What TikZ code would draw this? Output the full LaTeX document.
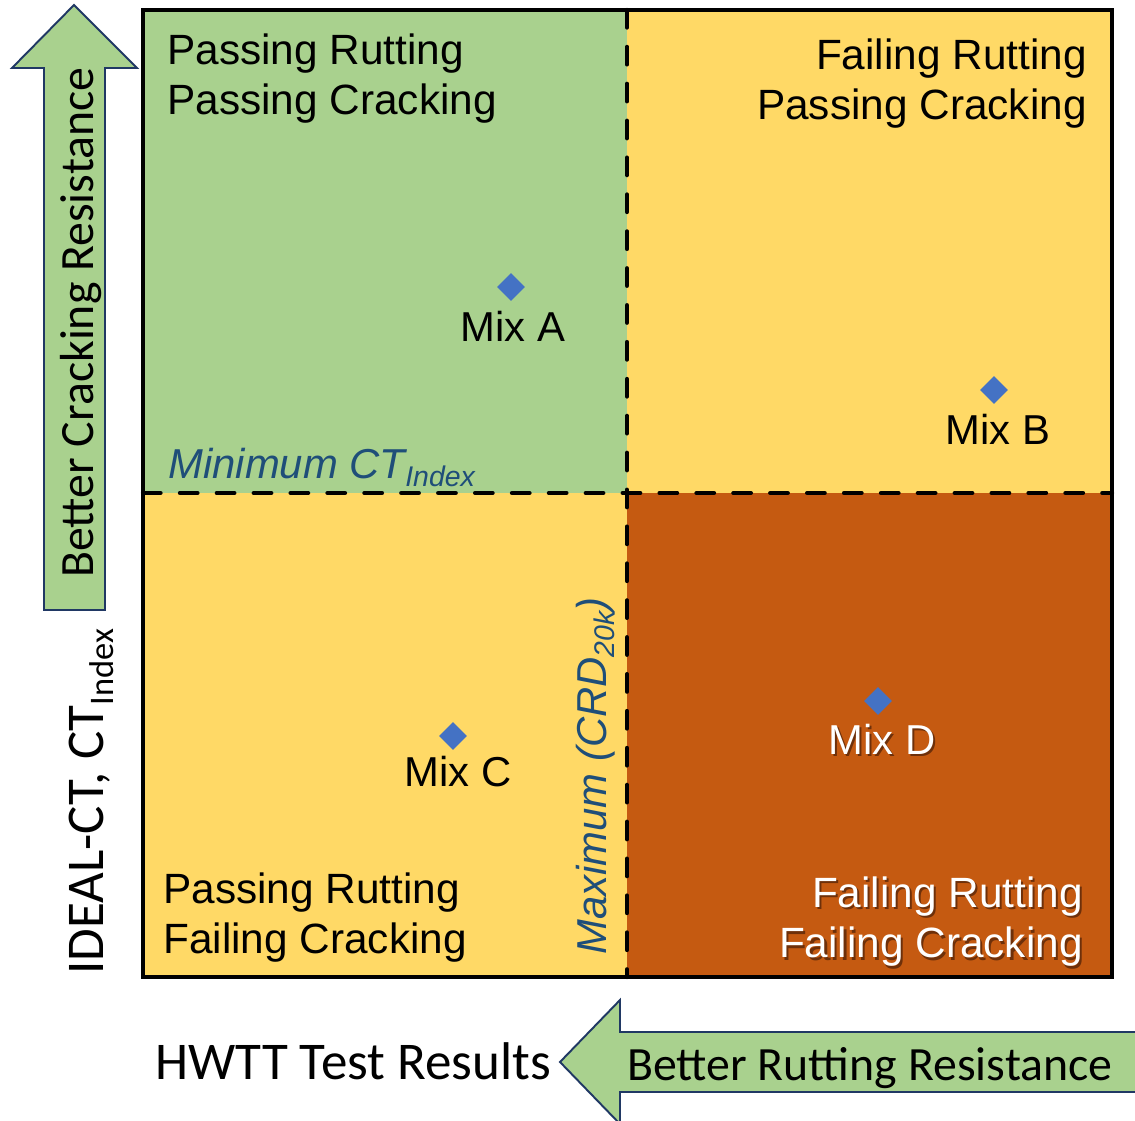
\documentclass[tikz,border=0pt]{standalone}
\usepackage{fontspec}
\setmainfont{Liberation Sans}
\newfontfamily\calibri{Carlito}
\usetikzlibrary{shapes.geometric}
\definecolor{qgreen}{HTML}{A9D18E}
\definecolor{qyellow}{HTML}{FFD966}
\definecolor{qorange}{HTML}{C55A11}
\definecolor{mixblue}{HTML}{4472C4}
\definecolor{labblue}{HTML}{1F4E79}
\definecolor{arrowline}{HTML}{203864}
\definecolor{shadowc}{HTML}{6E300A}
\newcommand{\shtext}[1]{\makebox[0pt][l]{\hspace{1.2pt}\raisebox{-1.2pt}{\color{shadowc}#1}}{\color{white}#1}}
\begin{document}
\begin{tikzpicture}[x=0.02cm,y=-0.02cm,
  quad/.style={font=\fontsize{24.1}{29}\selectfont, inner sep=0pt},
  mixpt/.style={diamond, fill=mixblue, inner sep=0pt, minimum width=0.56cm, minimum height=0.56cm},
  mixlab/.style={font=\fontsize{23.8}{28.9}\selectfont, inner sep=0pt},
  limitlab/.style={font=\fontsize{23.8}{28.9}\selectfont\itshape, text=labblue, inner sep=0pt},
  divider/.style={line width=2.4pt, dash pattern=on 10pt off 11pt, line cap=round},
  bigarrow/.style={fill=qgreen, draw=arrowline, line width=1.1pt, line join=miter},
  axislab/.style={font=\calibri\fontsize{30.2}{35}\selectfont, inner sep=0pt},
  arrowlab/.style={font=\calibri\fontsize{27.2}{32}\selectfont, inner sep=0pt},
]
\useasboundingbox (0,0) rectangle (1135,1121);
% quadrants
\fill[qgreen] (143,10) rectangle (627,493);
\fill[qyellow] (627,10) rectangle (1112,493);
\fill[qyellow] (143,493) rectangle (627,977);
\fill[qorange] (627,493) rectangle (1112,977);
% dividers
\coordinate (vtop) at (627,10);
\coordinate (vbot) at (627,977);
\coordinate (hleft) at (143,493);
\coordinate (hright) at (1112,493);
\draw[divider] (vtop) -- (vbot);
\draw[divider] (hleft) -- (hright);
% frame
\draw[line width=2.3pt] (143,10) rectangle (1112,977);
% arrows
\draw[bigarrow] (44,610) -- (44,68) -- (12,68) -- (74,5) -- (137,68) -- (105,68) -- (105,610) -- cycle;
\draw[bigarrow] (1145,1032) -- (620,1032) -- (620,1000) -- (560,1062) -- (620,1124) -- (620,1092) -- (1145,1092);
% quadrant labels
\node[quad, anchor=north west, align=left] (tl) at (167,33) {Passing Rutting\\Passing Cracking};
\node[quad, anchor=north east, align=right] (tr) at (1087,38) {Failing Rutting\\Passing Cracking};
\node[quad, anchor=north west, align=left] (bl) at (163,872) {Passing Rutting\\Failing Cracking};
\node[quad, anchor=north east, align=right] (br) at (1083,876) {\shtext{Failing Rutting}\\\shtext{Failing Cracking}};
% mixes
\node[mixpt] (ma) at (511,287) {};
\node[mixlab] (mal) at (513,326) {Mix A};
\node[mixpt] (mb) at (994,390) {};
\node[mixlab] (mbl) at (998,429) {Mix B};
\node[mixpt] (mc) at (453,736) {};
\node[mixlab] (mcl) at (458,772) {Mix C};
\node[mixpt] (md) at (878,701) {};
\node[mixlab] (mdl) at (882,740) {\shtext{Mix D}};
% limit labels
\node[limitlab, anchor=base west] (minct) at (168,478) {Minimum CT\raisebox{-5pt}{\fontsize{16.2}{19}\selectfont Index}};
\node[limitlab, anchor=base west, rotate=90] (maxcrd) at (606,955) {Maximum (CRD\raisebox{-5pt}{\fontsize{16.2}{19}\selectfont 20k})};
% axis labels
\node[axislab, anchor=base west] (xlab) at (155,1079) {HWTT Test Results};
\node[axislab, anchor=base west, rotate=90] (ylab) at (103,975) {IDEAL-CT, CT\raisebox{-6pt}{\fontsize{19.6}{22}\selectfont Index}};
\node[arrowlab, anchor=base west, rotate=90] (uplab) at (93,578) {Better Cracking Resistance};
\node[arrowlab, anchor=base west] (leftlab) at (627,1080) {Better Rutting Resistance};
\end{tikzpicture}
\end{document}
